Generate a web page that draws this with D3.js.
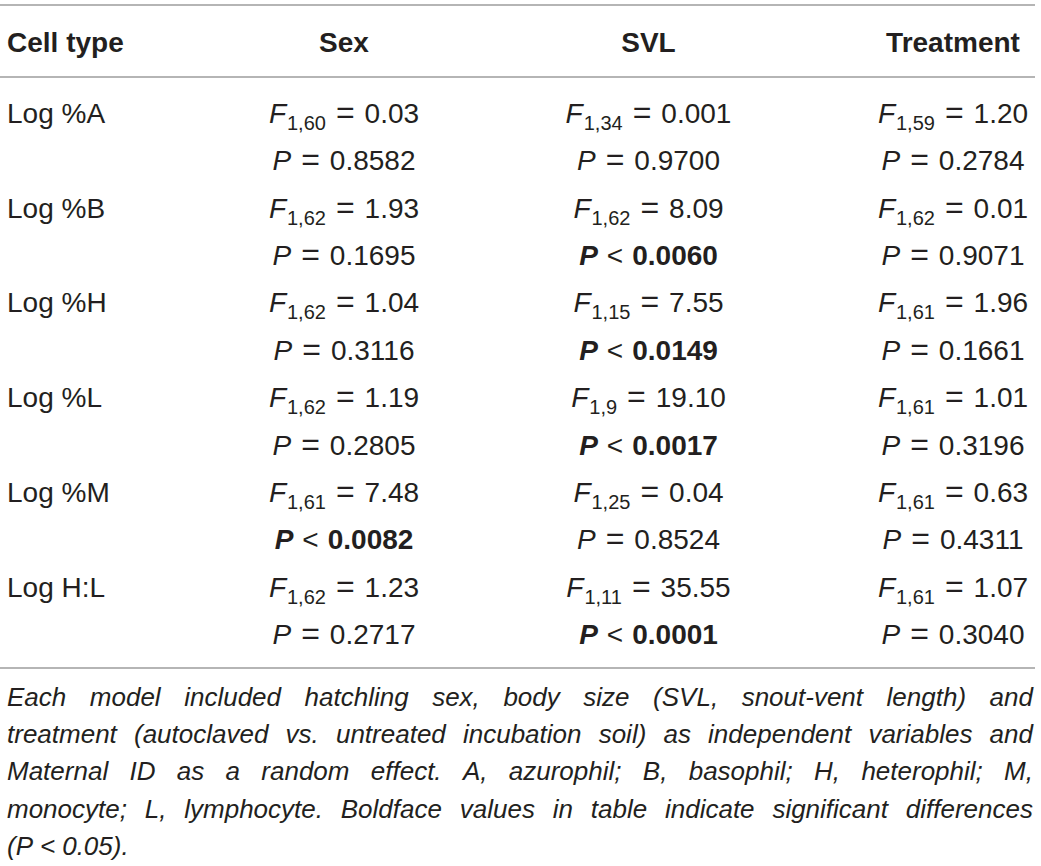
<!DOCTYPE html>
<html>
<head>
<meta charset="utf-8">
<script src="https://cdn.jsdelivr.net/npm/d3@7"></script>
<style>
  body { margin: 0; background: #fff; }
  svg text { font-family: "Liberation Sans", Arial, Helvetica, sans-serif; fill: #231f20; }
</style>
</head>
<body>
<svg id="table" width="1041" height="866"></svg>
<script>
// table content
var cellTypes = ['Log %A', 'Log %B', 'Log %H', 'Log %L', 'Log %M', 'Log H:L']
var columns = ['Sex', 'SVL', 'Treatment']

var sexDf = ['1,60', '1,62', '1,62', '1,62', '1,61', '1,62']
var sexF = ['0.03', '1.93', '1.04', '1.19', '7.48', '1.23']
var sexP = ['0.8582', '0.1695', '0.3116', '0.2805', '0.0082', '0.2717']
var sexSig = [false, false, false, false, true, false]

var svlDf = ['1,34', '1,62', '1,15', '1,9', '1,25', '1,11']
var svlF = ['0.001', '8.09', '7.55', '19.10', '0.04', '35.55']
var svlP = ['0.9700', '0.0060', '0.0149', '0.0017', '0.8524', '0.0001']
var svlSig = [false, true, true, true, false, true]

var trtDf = ['1,59', '1,62', '1,61', '1,61', '1,61', '1,61']
var trtF = ['1.20', '0.01', '1.96', '1.01', '0.63', '1.07']
var trtP = ['0.2784', '0.9071', '0.1661', '0.3196', '0.4311', '0.3040']
var trtSig = [false, false, false, false, false, false]

var captionLines = [
  'Each model included hatchling sex, body size (SVL, snout-vent length) and',
  'treatment (autoclaved vs. untreated incubation soil) as independent variables and',
  'Maternal ID as a random effect. A, azurophil; B, basophil; H, heterophil; M,',
  'monocyte; L, lymphocyte. Boldface values in table indicate significant differences',
  '(P < 0.05).'
]

var svg = d3.select('#table')
var left = 7
var right = 1033

// column centres and text line baselines
var x = d3.scalePoint().domain(columns).range([344, 953])
var y = d3.scaleLinear().domain([0, 11]).range([123, 644])

// rules
var rules = [5, 77, 668]
svg.selectAll('.rule')
  .data(rules)
  .enter()
  .append('line')
  .attr('class', 'rule')
  .attr('x1', 0)
  .attr('x2', right + 2)
  .attr('y1', d => d)
  .attr('y2', d => d)
  .attr('stroke', '#9d9d9d')
  .attr('stroke-width', 1.6)

// header
svg.append('text')
  .attr('x', left)
  .attr('y', 52)
  .attr('font-size', 28)
  .attr('font-weight', 'bold')
  .text('Cell type')

svg.selectAll('.head')
  .data(columns)
  .enter()
  .append('text')
  .attr('class', 'head')
  .attr('x', d => x(d))
  .attr('y', 52)
  .attr('text-anchor', 'middle')
  .attr('font-size', 28)
  .attr('font-weight', 'bold')
  .text(d => d)

// row labels
svg.selectAll('.label')
  .data(cellTypes)
  .enter()
  .append('text')
  .attr('class', 'label')
  .attr('x', left)
  .attr('y', (d, i) => y(i * 2))
  .attr('font-size', 28)
  .text(d => d)

// cells: one object per column/row
var cells = []
var sets = [
  [sexDf, sexF, sexP, sexSig],
  [svlDf, svlF, svlP, svlSig],
  [trtDf, trtF, trtP, trtSig]
]
columns.forEach(function (col, c) {
  cellTypes.forEach(function (ct, r) {
    cells.push({
      col: col,
      row: r,
      df: sets[c][0][r],
      f: sets[c][1][r],
      p: sets[c][2][r],
      sig: sets[c][3][r]
    })
  })
})

// F statistic line
var fText = svg.selectAll('.fstat')
  .data(cells)
  .enter()
  .append('text')
  .attr('class', 'fstat')
  .attr('x', d => x(d.col))
  .attr('y', d => y(d.row * 2))
  .attr('text-anchor', 'middle')
  .attr('font-size', 28)

fText.append('tspan').attr('font-style', 'italic').text('F')
fText.append('tspan').attr('font-size', 20).attr('dy', 7).attr('dx', 1).text(d => d.df)
fText.append('tspan').attr('dy', -7).attr('dx', 10).attr('font-size', 32).text('=')
fText.append('tspan').attr('dx', 10).text(d => d.f)

// P value line
var pText = svg.selectAll('.pval')
  .data(cells)
  .enter()
  .append('text')
  .attr('class', 'pval')
  .attr('x', d => x(d.col))
  .attr('y', d => y(d.row * 2 + 1))
  .attr('text-anchor', 'middle')
  .attr('font-size', 28)

pText.append('tspan')
  .attr('font-style', 'italic')
  .attr('font-weight', d => d.sig ? 'bold' : 'normal')
  .text('P')
pText.append('tspan').attr('dx', d => d.sig ? 9 : 10).attr('font-size', d => d.sig ? 28 : 32).text(d => d.sig ? '<' : '=')
pText.append('tspan')
  .attr('dx', d => d.sig ? 9 : 10)
  .attr('font-weight', d => d.sig ? 'bold' : 'normal')
  .text(d => d.p)

// caption, justified word by word except for the last line
svg.selectAll('.caption')
  .data(captionLines)
  .enter()
  .append('text')
  .attr('class', 'caption')
  .attr('y', (d, i) => 706 + i * 37.2)
  .attr('font-size', 26)
  .attr('font-style', 'italic')
  .each(function (line, i) {
    var t = d3.select(this)
    var words = line.split(' ')
    var spans = words.map(w => t.append('tspan').text(w))
    var widths = spans.map(s => s.node().getComputedTextLength())
    var gap = 7
    if (i < captionLines.length - 1) {
      gap = (right - left - d3.sum(widths)) / (words.length - 1)
    }
    var pos = left
    spans.forEach(function (s, k) {
      s.attr('x', pos)
      pos += widths[k] + gap
    })
  })
</script>
</body>
</html>
